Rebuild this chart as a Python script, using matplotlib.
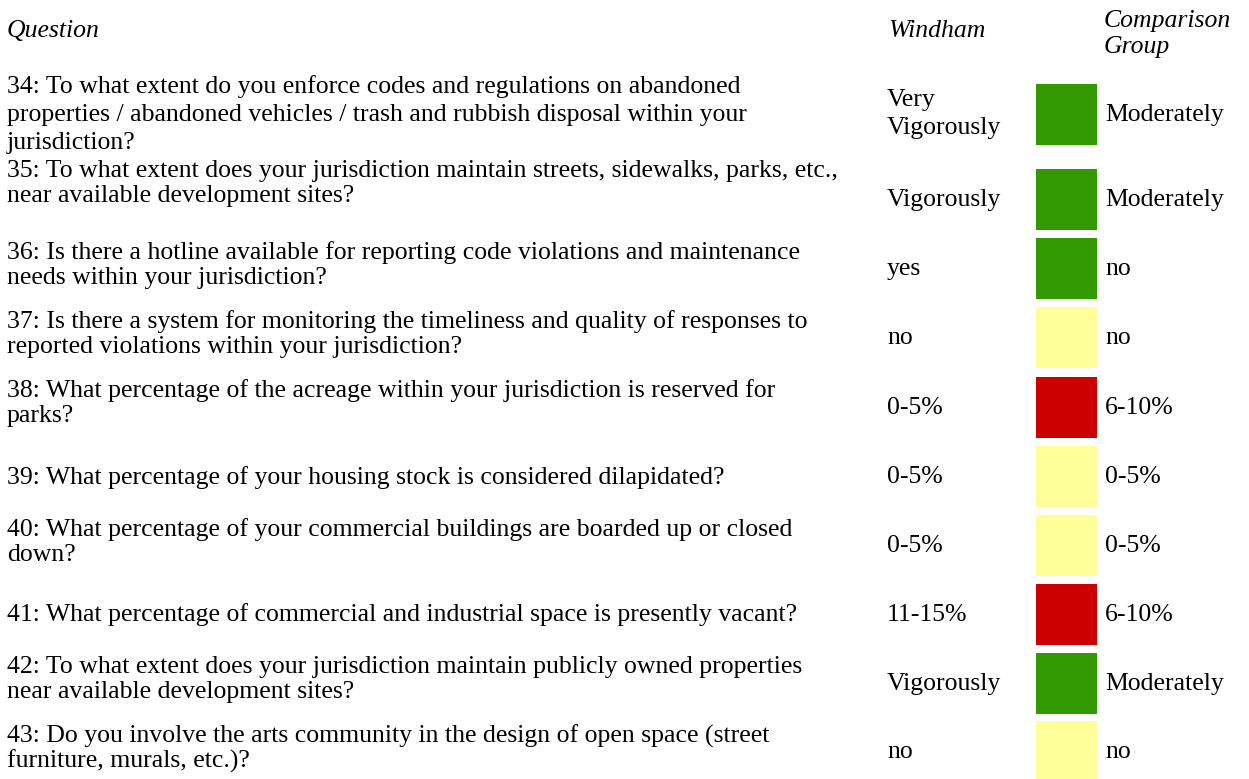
import matplotlib
matplotlib.use("Agg")
import matplotlib.pyplot as plt

# ---------------- data ----------------
header_question = "Question"
header_local = "Windham"
header_comp = "Comparison\nGroup"

questions = [
    "34: To what extent do you enforce codes and regulations on abandoned\nproperties / abandoned vehicles / trash and rubbish disposal within your\njurisdiction?",
    "35: To what extent does your jurisdiction maintain streets, sidewalks, parks, etc.,\nnear available development sites?",
    "36: Is there a hotline available for reporting code violations and maintenance\nneeds within your jurisdiction?",
    "37: Is there a system for monitoring the timeliness and quality of responses to\nreported violations within your jurisdiction?",
    "38: What percentage of the acreage within your jurisdiction is reserved for\nparks?",
    "39: What percentage of your housing stock is considered dilapidated?",
    "40: What percentage of your commercial buildings are boarded up or closed\ndown?",
    "41: What percentage of commercial and industrial space is presently vacant?",
    "42: To what extent does your jurisdiction maintain publicly owned properties\nnear available development sites?",
    "43: Do you involve the arts community in the design of open space (street\nfurniture, murals, etc.)?",
]
windham = ["Very\nVigorously", "Vigorously", "yes", "no", "0-5%", "0-5%", "0-5%",
           "11-15%", "Vigorously", "no"]
comparison = ["Moderately", "Moderately", "no", "no", "6-10%", "0-5%", "0-5%",
              "6-10%", "Moderately", "no"]
status = ["better", "better", "better", "same", "worse", "same", "same",
          "worse", "better", "same"]

status_colors = {"better": "#339900", "same": "#FFFF99", "worse": "#CC0000"}

# ---------------- layout ----------------
W, H = 1249, 779
FS = 18.5                    # pt
EM = FS * 100 / 72           # px
XC = 0.224 * EM              # x-height centre above baseline
header_h = 64
row_heights = [101, 69, 69, 69, 70, 69, 68, 70, 68, 69]
q_shift = [1, -16, -3, -3, -3.5, 1.5, -2, 1, -3.5, -2]
q_spacing = [28, 25, 25, 25, 25, 25, 25, 25, 25, 25]
v_shift = 1
x_q, x_w, x_box, box_w, box_h, x_c = 7, 887, 1036, 61, 61, 1104
FONT = "Liberation Serif"

fig = plt.figure(figsize=(W / 100, H / 100), dpi=100)
ax = fig.add_axes([0, 0, 1, 1])
ax.set_xlim(0, W)
ax.set_ylim(H, 0)
ax.axis("off")

centers = []
top = header_h
for h in row_heights:
    centers.append(top + h / 2)
    top += h


def draw_lines(x, yc, text, spacing, style="normal"):
    lines = text.split("\n")
    n = len(lines)
    for i, ln in enumerate(lines):
        y = yc + (i - (n - 1) / 2) * spacing + XC
        ax.text(x, y, ln, fontsize=FS, family=FONT, style=style,
                ha="left", va="baseline", color="black")


# headers
draw_lines(x_q, 31, header_question, 25, style="italic")
draw_lines(x_w + 1, 31, header_local, 25, style="italic")
draw_lines(x_c, 34.5, header_comp, 26, style="italic")

# boxes
ax.barh(centers, box_w, left=x_box, height=box_h,
        color=[status_colors[s] for s in status], edgecolor="none")

for i, yc in enumerate(centers):
    draw_lines(x_q, yc + q_shift[i], questions[i], q_spacing[i])
    draw_lines(x_w, yc + v_shift - 0.5 * (windham[i].count("\n") > 0) * 3,
               windham[i], 28)
    draw_lines(x_c + 1, yc + v_shift, comparison[i], 28)

fig.savefig("out.png", dpi=100, facecolor="white")
